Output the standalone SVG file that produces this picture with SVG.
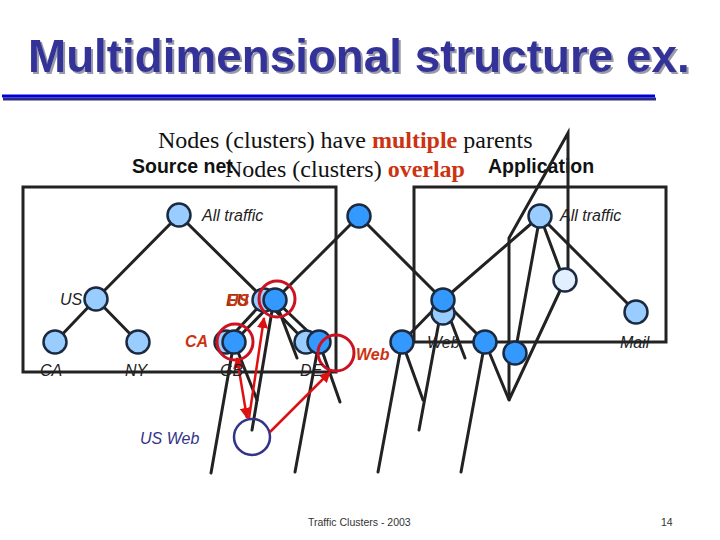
<svg xmlns="http://www.w3.org/2000/svg" width="720" height="540" viewBox="0 0 720 540">
<defs>
<style>
.ln{stroke:#222;stroke-width:3;fill:none;stroke-linecap:round}
.box{stroke:#222;stroke-width:3;fill:none}
.lt{fill:#99ccff;stroke:#1c2a40;stroke-width:2.5}
.dk{fill:#3399ff;stroke:#1c2a40;stroke-width:2.5}
.vl{fill:#e2efff;stroke:#1c2a40;stroke-width:2.5}
.rc{fill:none;stroke:#cc1122;stroke-width:3}
.ar{stroke:#dd1111;stroke-width:2.5;fill:none}
.lb{font-family:"Liberation Sans",Arial,sans-serif;font-style:italic;font-size:16px;fill:#222}
.rl{font-family:"Liberation Sans",Arial,sans-serif;font-style:italic;font-weight:bold;font-size:16px;fill:#cc3311}
.hd{font-family:"Liberation Sans",Arial,sans-serif;font-weight:bold;font-size:19.5px;fill:#111}
.tm{font-family:"Liberation Serif","Times New Roman",serif;font-size:24px;fill:#111}
.tr{font-weight:bold;fill:#cc3311}
</style>
<filter id="sh" x="-5%" y="-20%" width="110%" height="140%">
<feOffset in="SourceAlpha" dx="2" dy="2" result="o"/>
<feFlood flood-color="#9a9aa8"/>
<feComposite in2="o" operator="in" result="s"/>
<feMerge><feMergeNode in="s"/><feMergeNode in="SourceGraphic"/></feMerge>
</filter>
<marker id="ah" viewBox="0 0 10 10" refX="9" refY="5" markerWidth="4.5" markerHeight="4.5" orient="auto-start-reverse">
<path d="M0,0 L10,5 L0,10 z" fill="#dd1111"/>
</marker>
</defs>
<rect width="720" height="540" fill="#fff"/>
<g id="title">
<text x="28" y="72" font-family="Liberation Sans,Arial,sans-serif" font-weight="bold" font-size="45.8" fill="#333399" filter="url(#sh)">Multidimensional structure ex.</text>
<line x1="3" y1="99" x2="656" y2="99" stroke="#2a2a80" stroke-width="3"/>
<line x1="2" y1="96" x2="655" y2="96" stroke="#0000dd" stroke-width="3"/>
</g>
<g id="subtitles">
<text class="tm" x="158" y="148">Nodes (clusters) have <tspan class="tr">multiple</tspan> parents</text>
<text class="hd" x="132" y="173">Source net</text>
<text class="tm" x="225" y="177">Nodes (clusters) <tspan class="tr">overlap</tspan></text>
<text class="hd" x="488" y="173">Application</text>
</g>
<g id="boxes">
<rect class="box" x="23" y="187" width="313" height="185"/>
<rect class="box" x="414" y="187" width="252" height="155"/>
</g>
<g id="connectors">
<line class="ln" x1="179" y1="215" x2="96" y2="299"/>
<line class="ln" x1="179" y1="215" x2="265" y2="300"/>
<line class="ln" x1="96" y1="299" x2="55" y2="342"/>
<line class="ln" x1="96" y1="299" x2="138" y2="342"/>
<line class="ln" x1="265" y1="300" x2="226" y2="342"/>
<line class="ln" x1="275" y1="300" x2="234" y2="342"/>
<line class="ln" x1="265" y1="300" x2="306" y2="342"/>
<line class="ln" x1="275" y1="300" x2="319" y2="342"/>
<line class="ln" x1="275" y1="300" x2="297" y2="358"/>
<line class="ln" x1="273" y1="305" x2="252" y2="430"/>
<line class="ln" x1="234" y1="342" x2="211" y2="473"/>
<line class="ln" x1="234" y1="342" x2="257" y2="400"/>
<line class="ln" x1="319" y1="342" x2="295" y2="472"/>
<line class="ln" x1="319" y1="342" x2="340" y2="402"/>
<line class="ln" x1="359" y1="216" x2="275" y2="300"/>
<line class="ln" x1="359" y1="216" x2="443" y2="300"/>
<line class="ln" x1="540" y1="216" x2="443" y2="300"/>
<line class="ln" x1="540" y1="216" x2="636" y2="312"/>
<line class="ln" x1="540" y1="216" x2="562" y2="275"/>
<line class="ln" x1="540" y1="216" x2="515" y2="353"/>
<line class="ln" x1="443" y1="300" x2="402" y2="342"/>
<line class="ln" x1="443" y1="300" x2="485" y2="342"/>
<line class="ln" x1="443" y1="300" x2="465" y2="358"/>
<line class="ln" x1="443" y1="300" x2="419" y2="430"/>
<line class="ln" x1="402" y1="342" x2="378" y2="472"/>
<line class="ln" x1="402" y1="342" x2="423" y2="400"/>
<line class="ln" x1="485" y1="342" x2="461" y2="472"/>
<line class="ln" x1="485" y1="342" x2="509" y2="400"/>
<polyline class="ln" points="568,270 568,133 509,238 509,400 565,280"/>
</g>
<g id="node-all-traffic-src"><circle class="lt" cx="179" cy="215" r="11.5"/></g>
<g id="node-us"><circle class="lt" cx="96" cy="299" r="11.5"/></g>
<g id="node-ca"><circle class="lt" cx="55" cy="342" r="11.5"/></g>
<g id="node-ny"><circle class="lt" cx="138" cy="342" r="11.5"/></g>
<g id="node-eu"><circle class="lt" cx="264" cy="300" r="11.5"/><circle class="dk" cx="275" cy="300" r="11.5"/></g>
<g id="node-gb"><circle class="lt" cx="226" cy="342" r="11.5"/><circle class="dk" cx="234" cy="342" r="11.5"/></g>
<g id="node-de"><circle class="lt" cx="306" cy="342" r="11.5"/><circle class="dk" cx="319" cy="342" r="11.5"/></g>
<g id="node-top"><circle class="dk" cx="359" cy="216" r="11.5"/></g>
<g id="node-all-traffic-app"><circle class="lt" cx="540" cy="216" r="11.5"/></g>
<g id="node-pale"><circle class="vl" cx="565" cy="280" r="11.5"/></g>
<g id="node-mail"><circle class="lt" cx="636" cy="312" r="11.5"/></g>
<g id="node-web"><circle class="lt" cx="443" cy="313" r="11.5"/><circle class="dk" cx="443" cy="300" r="11.5"/></g>
<g id="node-r1"><circle class="dk" cx="402" cy="342" r="11.5"/></g>
<g id="node-r2"><circle class="dk" cx="485" cy="342" r="11.5"/></g>
<g id="node-r3"><circle class="dk" cx="515" cy="353" r="11.5"/></g>
<g id="node-us-web"><circle cx="252" cy="437" r="18" fill="none" stroke="#333388" stroke-width="2.5"/></g>
<g id="highlights">
<circle class="rc" cx="277" cy="299" r="18"/>
<circle class="rc" cx="235" cy="342" r="18"/>
<circle class="rc" cx="336" cy="353" r="18"/>
</g>
<g id="red-arrows">
<line class="ar" x1="247" y1="418" x2="237" y2="358" marker-start="url(#ah)" marker-end="url(#ah)"/>
<line class="ar" x1="249" y1="418" x2="264" y2="318" marker-end="url(#ah)"/>
<line class="ar" x1="270" y1="432" x2="330" y2="372" marker-end="url(#ah)"/>
</g>
<g id="labels">
<text class="lb" x="202" y="221">All traffic</text>
<text class="lb" x="560" y="221">All traffic</text>
<text class="lb" x="60" y="305">US</text>
<text class="lb" x="40" y="376">CA</text>
<text class="lb" x="125" y="376">NY</text>
<text class="lb" x="220" y="376">GB</text>
<text class="lb" x="300" y="376">DE</text>
<text class="lb" x="427" y="348">Web</text>
<text class="lb" x="620" y="348">Mail</text>
<text class="rl" x="226" y="306" style="fill:#993311">EU</text>
<text class="rl" x="227" y="306">US</text>
<text class="rl" x="185" y="347">CA</text>
<text class="rl" x="356" y="360">Web</text>
<text class="lb" x="140" y="444" style="fill:#333388">US Web</text>
</g>
<g id="footer">
<text x="308" y="526" font-family="Liberation Sans,Arial,sans-serif" font-size="10.5" fill="#333">Traffic Clusters - 2003</text>
<text x="661" y="526" font-family="Liberation Sans,Arial,sans-serif" font-size="10.5" fill="#333">14</text>
</g>
</svg>
